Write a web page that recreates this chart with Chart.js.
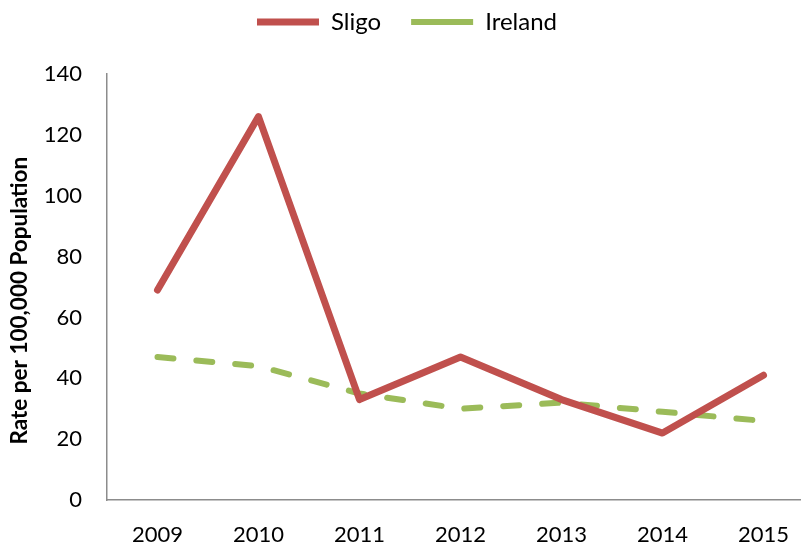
<!DOCTYPE html>
<html>
<head>
<meta charset="utf-8">
<script src="https://cdn.jsdelivr.net/npm/chart.js@4.4.1/dist/chart.umd.min.js"></script>
<style>
  html, body { margin: 0; padding: 0; background: #fff; overflow: hidden; }
  #wrap { width: 814px; height: 544px; position: relative; }
</style>
</head>
<body>
<div id="wrap"><canvas id="c" width="814" height="544"></canvas></div>
<script>
const years = ['2009', '2010', '2011', '2012', '2013', '2014', '2015'];
const sligo = [69, 126, 33, 47, 33, 22, 41];
const ireland = [47, 44, 35, 30, 32, 29, 26];
const yTicks = [0, 20, 40, 60, 80, 100, 120, 140];

const legendSpace = {
  id: 'legendSpace',
  beforeLayout(chart) {
    const lg = chart.legend;
    if (lg && !lg._patched) {
      lg._patched = true;
      const origFit = lg.fit.bind(lg);
      lg.fit = function () { origFit(); this.height = 94; };
    }
  }
};

new Chart(document.getElementById('c'), {
  type: 'line',
  data: {
    labels: years,
    datasets: [
      {
        label: 'Sligo',
        data: sligo,
        borderColor: '#C0504D',
        backgroundColor: '#C0504D',
        borderWidth: 7,
        borderCapStyle: 'round',
        borderJoinStyle: 'round',
        pointRadius: 0,
        tension: 0,
        fill: false
      },
      {
        label: 'Ireland',
        data: ireland,
        borderColor: '#9BBB59',
        backgroundColor: '#9BBB59',
        borderWidth: 6,
        borderDash: [16, 23],
        borderCapStyle: 'round',
        borderJoinStyle: 'round',
        pointRadius: 0,
        tension: 0,
        fill: false
      }
    ]
  },
  plugins: [legendSpace],
  options: {
    responsive: false,
    animation: false,
    devicePixelRatio: 1,
    layout: { padding: { top: -20, left: 0, right: 0, bottom: 0 } },
    plugins: {
      tooltip: { enabled: false },
      legend: {
        position: 'top',
        labels: {
          usePointStyle: true,
          pointStyle: 'line',
          pointStyleWidth: 62,
          padding: 30,
          color: '#000',
          font: { family: 'Lato', size: 24 }
        }
      }
    },
    scales: {
      x: {
        type: 'category',
        offset: true,
        grid: { display: false, drawTicks: false },
        border: { display: true, color: '#8c8c8c', width: 1.5 },
        ticks: { color: '#000', padding: 22, font: { family: 'Lato', size: 22 }, maxRotation: 0, autoSkip: false },
        afterFit(scale) { scale.height = 44; }
      },
      y: {
        min: 0,
        max: 140,
        afterBuildTicks(scale) { scale.ticks = yTicks.map(v => ({ value: v })); },
        grid: { display: false, drawTicks: false },
        border: { display: true, color: '#8c8c8c', width: 1.5 },
        ticks: { color: '#000', padding: 25, font: { family: 'Lato', size: 22 } },
        title: {
          display: true,
          text: 'Rate per 100,000 Population\u00a0\u00a0\u00a0\u00a0\u00a0',
          color: '#000',
          font: { family: 'Lato', size: 22.5, weight: 'bold' },
          padding: { top: 6, bottom: 0 }
        },
        afterFit(scale) { scale.width = 107; }
      }
    }
  }
});
</script>
</body>
</html>
